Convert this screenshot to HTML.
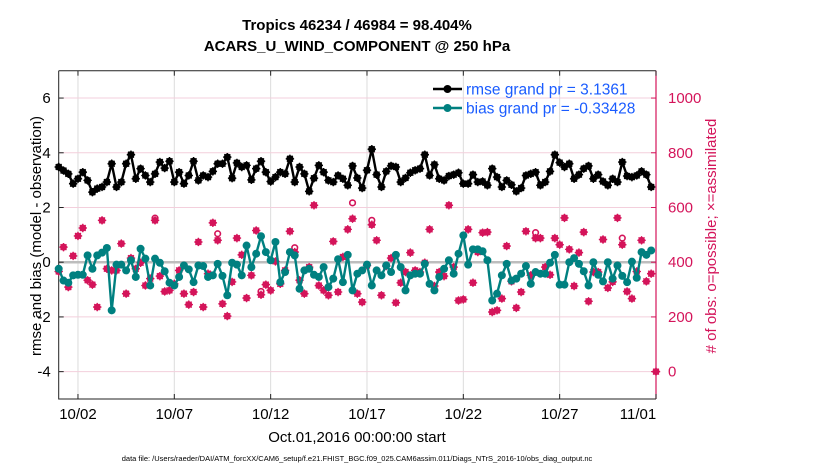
<!DOCTYPE html>
<html><head><meta charset="utf-8"><style>
body{margin:0;background:#fff;}
svg text{font-family:"Liberation Sans",Arial,sans-serif;}
</style></head><body>
<svg id="chart" width="830" height="470" viewBox="0 0 830 470" xmlns="http://www.w3.org/2000/svg">
<rect width="830" height="470" fill="#fff"/>
<text x="357" y="30" text-anchor="middle" font-size="15" font-weight="bold">Tropics 46234 / 46984 = 98.404%</text>
<text x="357" y="51" text-anchor="middle" font-size="15" font-weight="bold">ACARS_U_WIND_COMPONENT @ 250 hPa</text>
<g id="grid"></g><g id="axes"></g><g id="marks"></g><g id="legend"></g>
<text transform="translate(41,236) rotate(-90)" text-anchor="middle" font-size="15">rmse and bias (model - observation)</text>
<text transform="translate(716,236) rotate(-90)" text-anchor="middle" font-size="15" fill="#d4145a"># of obs: o=possible; ×=assimilated</text>
<text x="357" y="442" text-anchor="middle" font-size="15">Oct.01,2016 00:00:00 start</text>
<text x="357" y="461" text-anchor="middle" font-size="7.5">data file: /Users/raeder/DAI/ATM_forcXX/CAM6_setup/f.e21.FHIST_BGC.f09_025.CAM6assim.011/Diags_NTrS_2016-10/obs_diag_output.nc</text>
</svg>
<script>
const rmse=[3.48,3.35,3.23,2.87,3.05,3.29,2.99,2.56,2.69,2.75,2.93,3.6,2.75,2.93,3.6,3.93,3.05,3.42,3.17,2.93,3.23,3.66,3.44,3.69,2.93,3.29,2.87,3.17,3.69,2.99,3.17,3.11,3.32,3.6,3.6,3.84,3.07,3.63,3.48,3.54,3.01,3.42,3.69,3.29,2.95,3.11,3.29,3.23,3.78,2.93,3.48,3.23,2.59,3.07,3.54,3.29,2.99,2.93,3.17,3.05,2.81,
3.52,3.08,2.71,3.36,4.13,3.2,2.75,3.32,3.52,3.48,2.93,3.08,3.27,3.36,3.42,3.93,3.17,3.57,3.05,2.99,3.15,3.2,3.27,2.87,2.87,3.2,2.93,2.95,2.81,3.42,3.11,2.75,2.99,2.83,2.59,2.71,3.17,3.23,3.29,2.81,2.93,3.32,3.93,3.64,3.48,3.6,3.05,3.2,3.42,3.52,3.05,3.2,2.95,2.81,3.05,2.93,3.66,3.15,3.11,3.17,3.32,3.2,2.75];
const bias=[-0.24,-0.67,-0.75,-0.48,-0.46,-0.46,0.25,-0.24,0.25,0.35,0.52,-1.76,-0.09,-0.09,-0.3,0.07,-0.54,0.49,0.13,-0.85,0.13,-0.02,-0.33,-0.75,-0.85,-0.54,-0.12,-0.26,-0.73,-0.12,-0.14,-0.54,-0.48,-0.06,-0.5,-1.21,-0.02,-0.09,-0.48,0.61,-0.18,0.31,0.95,0.37,0.07,0.74,-0.73,-0.36,0.37,0.25,-0.97,-0.3,-0.24,-0.46,-0.54,-0.18,-0.91,-0.6,0.11,-0.73,0.27,
-1.03,-0.42,-0.3,-0.09,-0.85,-0.3,-0.48,-0.12,-0.36,0.27,-0.18,-1.03,-0.48,-0.42,-0.42,-0.06,-0.79,-1.03,-0.54,-0.24,0.07,-0.42,0.31,0.98,-0.09,0.47,0.47,0.4,0.07,-1.4,-1.15,-0.48,-0.06,-0.67,-0.6,-0.42,-0.14,-0.79,-0.36,-0.42,-0.42,-0.02,0.27,-0.82,-0.82,0,0.15,-0.06,-0.33,-0.85,0,-0.46,-0.7,0,-0.6,-0.12,-0.5,-0.73,0.02,-0.57,0.37,0.27,0.43];
const nUsed=[366,455,309,423,496,525,334,318,236,553,376,370,370,468,285,415,376,398,315,340,553,349,293,297,321,370,285,245,291,474,236,358,544,480,248,203,328,488,427,269,352,516,281,318,297,403,321,370,513,437,334,285,382,608,315,297,279,476,291,419,520,
559,285,254,388,537,480,279,386,415,252,325,364,435,370,364,398,520,313,364,349,608,382,260,264,520,325,437,508,510,218,224,267,459,330,233,291,513,352,488,488,382,354,488,464,562,447,313,435,510,257,364,364,483,306,328,562,464,293,267,366,480,330,358,0];
const possibleIdx=[20,33,42,49,61,65,99,117];
const possibleVal=[561,504,293,453,617,553,508,488];
const xTickLabels=["10/02","10/07","10/12","10/17","10/22","10/27","11/01"];
const xTickDays=[1,6,11,16,21,26,31];
const yTicks=[-4,-2,0,2,4,6];
const rTicks=[0,200,400,600,800,1000];
const legendLabels=["rmse grand pr = 3.1361","bias grand pr = -0.33428"];

const L=58.7,R=656,T=70.7,B=399;
const X=d=>L+(d/31)*(R-L);
const Y=v=>B-(v+5)/12*(B-T);
const YR=c=>Y(c/100-4);
const NS="http://www.w3.org/2000/svg";
function mk(parent,tag,attrs){const e=document.createElementNS(NS,tag);for(const k in attrs)e.setAttribute(k,attrs[k]);document.getElementById(parent).appendChild(e);return e;}
const PINK="#d4145a",TEAL="#008080";
xTickDays.forEach((d,i)=>{const g=mk("grid","line",{x1:X(d),x2:X(d),y1:T,y2:B,stroke:"#dcdcdc","stroke-width":1});

});
rTicks.forEach(c=>{if(c===400)return;const g=mk("grid","line",{x1:L,x2:R,y1:YR(c),y2:YR(c),stroke:"#f3cfdc","stroke-width":1});

});
const z=mk("grid","line",{x1:L,x2:R,y1:Y(0),y2:Y(0),stroke:"#bdbdbd","stroke-width":2.5});


const fr=mk("axes","path",{d:`M${L} ${T}H${R}M${L} ${T}V${B}H${R}`,stroke:"#222",fill:"none","stroke-width":1});


const ra=mk("axes","line",{x1:R,x2:R,y1:T,y2:B,stroke:PINK,"stroke-width":1.2});


xTickDays.forEach((d,i)=>{mk("axes","line",{x1:X(d),x2:X(d),y1:B,y2:B-5,stroke:"#222"});mk("axes","line",{x1:X(d),x2:X(d),y1:T,y2:T+5,stroke:"#222"});
const t=mk("axes","text",{x:X(d)-(i===6?18:0),y:B+20,"text-anchor":"middle","font-size":15});t.textContent=xTickLabels[i];

});
yTicks.forEach(v=>{mk("axes","line",{x1:L,x2:L+5,y1:Y(v),y2:Y(v),stroke:"#222"});
const t=mk("axes","text",{x:L-8,y:Y(v)+5,"text-anchor":"end","font-size":15});t.textContent=v;

});
rTicks.forEach(c=>{mk("axes","line",{x1:R-5,x2:R,y1:YR(c),y2:YR(c),stroke:PINK});
const t=mk("axes","text",{x:R+12,y:YR(c)+5,"font-size":15,fill:PINK});t.textContent=c;

});
function star(g,x,y,col,r){mk(g,"path",{d:`M${x-r} ${y}H${x+r}M${x} ${y-r}V${y+r}M${x-r*0.7} ${y-r*0.7}L${x+r*0.7} ${y+r*0.7}M${x-r*0.7} ${y+r*0.7}L${x+r*0.7} ${y-r*0.7}`,stroke:col,"stroke-width":1.3,fill:"none"});}
possibleIdx.forEach((idx,k)=>{const c=mk("marks","circle",{cx:X(idx*0.25),cy:YR(possibleVal[k]),r:2.8,fill:"none",stroke:PINK,"stroke-width":1.6});

});
nUsed.forEach((c,i)=>{const d=i===nUsed.length-1?31:i*0.25;const x=X(d),y=YR(c);star("marks",x,y,PINK,4.2);
const p=mk("marks","circle",{cx:x,cy:y,r:3.5,fill:PINK});

});
function series(arr,col,name,isStar){
const ln=mk("marks","polyline",{points:arr.map((v,i)=>X(i*0.25)+","+Y(v)).join(" "),fill:"none",stroke:col,"stroke-width":2.4,"stroke-linejoin":"round"});


arr.forEach((v,i)=>{const x=X(i*0.25),y=Y(v);if(isStar)star("marks",x,y,col,4.2);
const c=mk("marks","circle",{cx:x,cy:y,r:isStar?3.6:4,fill:col});

});}
series(bias,TEAL,"bias",false);
series(rmse,"#000","rmse",true);
[["#000",89],[TEAL,108]].forEach((s,i)=>{
mk("legend","line",{x1:433,x2:462,y1:s[1],y2:s[1],stroke:s[0],"stroke-width":2.4});
const c=mk("legend","circle",{cx:447.5,cy:s[1],r:4,fill:s[0]});


const t=mk("legend","text",{x:466,y:s[1]+5.5,"font-size":15.5,fill:"#1a5cff"});t.textContent=legendLabels[i];

});
</script>
</body></html>
